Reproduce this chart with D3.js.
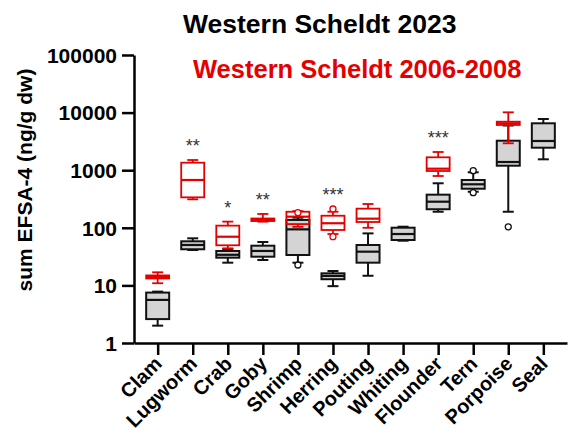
<!DOCTYPE html>
<html>
<head>
<meta charset="utf-8">
<script src="https://cdn.jsdelivr.net/npm/d3@7"></script>
<style>
  html, body { margin: 0; padding: 0; background: #fff; }
  svg { display: block; font-family: "Liberation Sans", Arial, sans-serif; }
</style>
</head>
<body>
<svg id="chart" width="570" height="442"></svg>
<script>
// Species sampled along the Western Scheldt
const categories = ["Clam", "Lugworm", "Crab", "Goby", "Shrimp", "Herring",
  "Pouting", "Whiting", "Flounder", "Tern", "Porpoise", "Seal"];

// 2023 campaign: box-plot statistics (ng/g dw)
const low2023  = [2.0, 41.2, 24.8, 27.6, 24.8, 9.7, 14.7, 59.7, 190, 423, 190, 1545];
const q1_2023  = [2.6, 42.4, 30.3, 31.5, 33.7, 12.8, 24.8, 61.4, 210, 477, 1197, 2459];
const med2023  = [5.6, 50.3, 34, 39.6, 94, 14.6, 38.5, 78, 284, 569, 1388, 3213];
const q3_2023  = [7.5, 58.3, 39.6, 48.9, 137, 16.2, 50.3, 100.4, 376, 676, 3250, 6520];
const high2023 = [7.8, 65.7, 42.9, 56.7, 150, 17.8, 80, 104.5, 593, 919, 5970, 7740];
const out2023  = [[], [], [], [], [22.6], [], [], [], [], [407, 980], [104], []];

// 2006-2008 campaign (null where the species was not sampled)
const low0608  = [10.9, 312, 44, 127.6, 104, 78, 100, null, 793, null, 2930, null];
const q1_0608  = [13.2, 338, 49.7, 131, 116, 91.6, 126, null, 968, null, 6095, null];
const med0608  = [14.0, 676, 70, 136.6, 156, 120, 144, null, 1062, null, 6520, null];
const q3_0608  = [14.9, 1350, 109, 145, 190, 162, 215, null, 1675, null, 6950, null];
const high0608 = [16.9, 1503, 128, 174, 195, 190, 259, null, 2070, null, 10120, null];
const out0608  = [[], [], [], [], [183], [70, 212], [], [], [], [], [], []];

// Significance of the difference between campaigns
const signif = ["", "**", "*", "**", "", "***", "", "", "***", "", "", ""];

const yTicks = [1, 10, 100, 1000, 10000, 100000];

const RED = "#e50000";
const FONT = "'Liberation Sans', Arial, sans-serif";
const svg = d3.select("#chart");

const x = d3.scalePoint().domain(categories).range([134, 567]).padding(0.675);
const y = d3.scaleLog().domain([1, 100000]).range([343, 55]);

const boxW = 23, capW = 11;

function series(lo, q1, md, q3, hi, outs) {
  return categories.map((c, i) => ({
    cat: c, lo: lo[i], q1: q1[i], md: md[i], q3: q3[i], hi: hi[i], outs: outs[i]
  })).filter(d => d.md != null);
}

function drawBoxes(data, color, fill, sw, mdw) {
  const g = svg.append("g");
  const b = g.selectAll("g.box").data(data).join("g")
    .attr("class", "box")
    .attr("transform", d => `translate(${x(d.cat)},0)`);
  // whiskers
  b.append("line").attr("x1", 0).attr("x2", 0)
    .attr("y1", d => y(d.hi)).attr("y2", d => y(d.q3))
    .attr("stroke", color).attr("stroke-width", sw);
  b.append("line").attr("x1", 0).attr("x2", 0)
    .attr("y1", d => y(d.q1)).attr("y2", d => y(d.lo))
    .attr("stroke", color).attr("stroke-width", sw);
  // caps
  b.append("line").attr("x1", -capW / 2).attr("x2", capW / 2)
    .attr("y1", d => y(d.hi)).attr("y2", d => y(d.hi))
    .attr("stroke", color).attr("stroke-width", sw);
  b.append("line").attr("x1", -capW / 2).attr("x2", capW / 2)
    .attr("y1", d => y(d.lo)).attr("y2", d => y(d.lo))
    .attr("stroke", color).attr("stroke-width", sw);
  // box
  b.append("rect").attr("x", -boxW / 2).attr("width", boxW)
    .attr("y", d => y(d.q3)).attr("height", d => Math.max(0.5, y(d.q1) - y(d.q3)))
    .attr("fill", fill).attr("stroke", color).attr("stroke-width", sw);
  // median
  b.append("line").attr("x1", -boxW / 2).attr("x2", boxW / 2)
    .attr("y1", d => y(d.md)).attr("y2", d => y(d.md))
    .attr("stroke", color).attr("stroke-width", mdw);
  // outliers
  b.selectAll("circle").data(d => d.outs).join("circle")
    .attr("cx", 0).attr("cy", v => y(v)).attr("r", 3)
    .attr("fill", "#fff").attr("stroke", color).attr("stroke-width", 1.3);
}

drawBoxes(series(low2023, q1_2023, med2023, q3_2023, high2023, out2023), "#111", "#d4d4d4", 2, 2.2);
drawBoxes(series(low0608, q1_0608, med0608, q3_0608, high0608, out0608), RED, "none", 1.8, 2.2);

// Significance stars above the highest mark of each species
svg.append("g").selectAll("text").data(categories.map((c, i) => ({
    cat: c, s: signif[i],
    top: Math.max(high2023[i], high0608[i] || 0, ...out0608[i])
  })).filter(d => d.s))
  .join("text")
  .attr("x", d => x(d.cat))
  .attr("y", d => y(d.top) - 8)
  .attr("text-anchor", "middle")
  .attr("font-size", 18)
  .attr("fill", "#333")
  .text(d => d.s);

// Axes
const yAxis = svg.append("g").attr("transform", "translate(134,0)")
  .call(d3.axisLeft(y).tickValues(yTicks).tickFormat(d3.format("d")).tickSize(12).tickSizeOuter(0));
const xAxis = svg.append("g").attr("transform", "translate(0,343)")
  .call(d3.axisBottom(x).tickSize(12).tickSizeOuter(0));

[yAxis, xAxis].forEach(a => {
  a.select(".domain").attr("stroke", "#000").attr("stroke-width", 2.5);
  a.selectAll(".tick line").attr("stroke", "#000").attr("stroke-width", 2.5);
});
yAxis.selectAll(".tick text")
  .attr("font-family", FONT)
  .attr("font-size", 21).attr("font-weight", "bold").attr("fill", "#000")
  .attr("x", -17).attr("dy", "0.35em");
xAxis.selectAll(".tick text")
  .attr("font-family", FONT)
  .attr("font-size", 20).attr("font-weight", "bold").attr("fill", "#000")
  .attr("text-anchor", "end")
  .attr("x", 0).attr("y", 0).attr("dy", 0)
  .attr("transform", "translate(5,22) rotate(-45)");

// Y axis title
svg.append("text")
  .attr("transform", "translate(32,180) rotate(-90)")
  .attr("text-anchor", "middle")
  .attr("font-size", 21).attr("font-weight", "bold")
  .text("sum EFSA-4 (ng/g dw)");

// Campaign titles (colour key)
svg.append("text").attr("x", 183).attr("y", 33)
  .attr("font-size", 26.5).attr("font-weight", "bold").attr("fill", "#000")
  .text("Western Scheldt 2023");
svg.append("text").attr("x", 193).attr("y", 78)
  .attr("font-size", 25.5).attr("font-weight", "bold").attr("fill", RED)
  .text("Western Scheldt 2006-2008");
</script>
</body>
</html>
